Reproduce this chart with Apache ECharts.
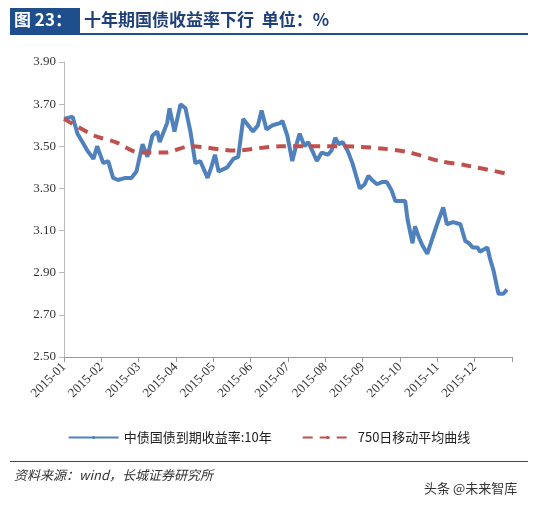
<!DOCTYPE html>
<html><head><meta charset="utf-8">
<script src="https://cdn.jsdelivr.net/npm/echarts@6/dist/echarts.min.js"></script>
<style>html,body{margin:0;padding:0;background:#fff}#c{width:538px;height:506px}</style>
</head><body><div id="c"></div>
<script>
var monthLabels = ['2015-01','2015-02','2015-03','2015-04','2015-05','2015-06','2015-07','2015-08','2015-09','2015-10','2015-11','2015-12'];
// day of year / yield
var yieldDays = [0,7,11,15,19,24,27,32,36,40,44,50,55,59,64,68,72,76,78,84,86,90,95,99,103,107,111,117,120,123,126,133,138,142,146,150,154,158,161,165,170,176,178,182,186,189,192,196,199,203,206,210,215,218,221,224,227,231,235,238,241,245,248,251,255,259,263,267,270,274,278,280,284,286,289,292,296,300,304,309,312,317,323,327,330,333,337,339,342,345,347,350,354,358,361];
var yieldVals = [3.63,3.64,3.56,3.52,3.48,3.44,3.50,3.42,3.43,3.35,3.34,3.35,3.35,3.38,3.51,3.45,3.55,3.57,3.52,3.61,3.68,3.57,3.70,3.68,3.57,3.42,3.43,3.35,3.40,3.46,3.38,3.40,3.44,3.45,3.63,3.60,3.57,3.60,3.67,3.58,3.60,3.61,3.62,3.55,3.43,3.50,3.56,3.50,3.52,3.47,3.43,3.47,3.46,3.48,3.54,3.51,3.52,3.48,3.42,3.36,3.30,3.32,3.36,3.34,3.32,3.33,3.33,3.29,3.24,3.24,3.24,3.15,3.04,3.12,3.07,3.03,2.99,3.06,3.13,3.21,3.13,3.14,3.13,3.05,3.04,3.02,3.02,3.00,3.01,3.02,2.97,2.91,2.80,2.80,2.82];
var maDays = [0,25,42,62,82,103,139,176,225,258,282,306,327,361];
var maVals = [3.63,3.55,3.52,3.47,3.47,3.50,3.48,3.50,3.50,3.49,3.47,3.43,3.41,3.37];
var yTicks = {min: 2.5, max: 3.9, interval: 0.2};

var chart = echarts.init(document.getElementById('c'));
function toMonth(d) { return d / 30.42; }
function pairs(days, vals) { return days.map(function (d, i) { return [toMonth(d), vals[i]]; }); }

chart.setOption({
    animation: false,
    grid: {left: 64, right: 26, top: 62, bottom: 149},
    legend: {
        bottom: 57, left: 'center', itemWidth: 50, itemHeight: 4, itemGap: 30,
        textStyle: {fontSize: 13, color: '#222', fontFamily: 'Noto Sans CJK SC'},
        data: ['中债国债到期收益率:10年', '750日移动平均曲线']
    },
    xAxis: {
        type: 'value', min: 0, max: 12, interval: 1,
        axisLine: {lineStyle: {color: '#999'}},
        axisTick: {show: true, lineStyle: {color: '#999'}},
        splitLine: {show: false},
        axisLabel: {
            rotate: 45, color: '#333', fontSize: 13, fontFamily: 'Liberation Serif',
            formatter: function (v) { return monthLabels[Math.round(v)] || ''; }
        }
    },
    yAxis: {
        type: 'value', min: yTicks.min, max: yTicks.max, interval: yTicks.interval,
        axisLine: {show: true, lineStyle: {color: '#bbb'}},
        axisTick: {show: true, lineStyle: {color: '#bbb'}},
        splitLine: {show: false},
        axisLabel: {color: '#333', fontSize: 13, fontFamily: 'Liberation Serif', formatter: function (v) { return v.toFixed(2); }}
    },
    series: [{
        name: '中债国债到期收益率:10年', type: 'line', symbol: 'none',
        data: pairs(yieldDays, yieldVals),
        lineStyle: {color: '#4f81bd', width: 4}, itemStyle: {color: '#4f81bd'}
    }, {
        name: '750日移动平均曲线', type: 'line', symbol: 'none', smooth: 0.3,
        data: pairs(maDays, maVals),
        lineStyle: {color: '#c0504d', width: 4, type: [10, 7]}, itemStyle: {color: '#c0504d'}
    }],
    graphic: [
        {type: 'rect', shape: {x: 10, y: 8, width: 70, height: 25}, style: {fill: '#1f4e8c'}},
        {type: 'text', left: 14, top: 11, style: {text: '图 23：', fill: '#fff', font: 'bold 17px Noto Sans CJK SC'}},
        {type: 'text', left: 84, top: 11, style: {text: '十年期国债收益率下行  单位：%', fill: '#1f3f7a', font: 'bold 17px Noto Sans CJK SC'}},
        {type: 'rect', shape: {x: 10, y: 33, width: 518, height: 2}, style: {fill: '#1f4e8c'}},
        {type: 'rect', shape: {x: 10, y: 461, width: 518, height: 1}, style: {fill: '#1f4e8c'}},
        {type: 'text', left: 14, top: 469, style: {text: '资料来源：wind，长城证券研究所', fill: '#333', font: 'italic 13px Noto Sans CJK SC'}},
        {type: 'text', left: 424, top: 482, style: {text: '头条 @未来智库', fill: '#333', font: '13px Noto Sans CJK SC'}}
    ]
});
</script></body></html>
